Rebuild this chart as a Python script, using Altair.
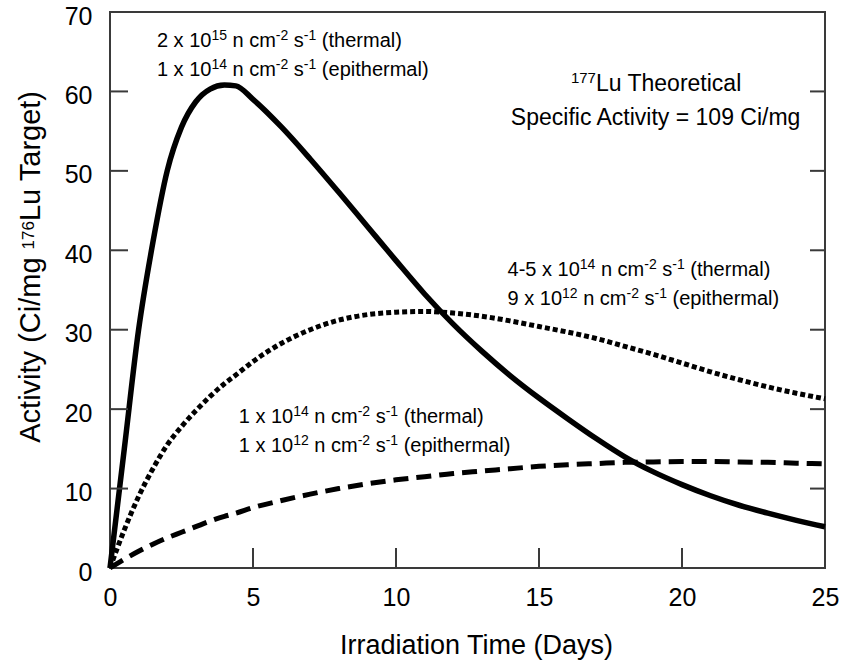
import altair as alt
import pandas as pd

# ---- data ----
days = [0, 0.5, 1, 1.5, 2, 2.5, 3, 3.5, 4, 4.4, 5, 6, 7, 8, 9, 10, 11, 12, 13, 14,
        15, 16, 17, 18, 19, 20, 21, 22, 23, 24, 25]
high_flux = [0, 15, 30, 41, 50, 55.5, 58.7, 60.3, 60.8, 60.7, 59, 55.5, 51.5, 47.3, 43,
             38.7, 34.5, 30.7, 27.3, 24.2, 21.4, 18.8, 16.3, 14.0, 12.1, 10.5, 9.1, 7.9,
             6.9, 6.0, 5.2]
mid_flux = [0, 4.8, 9, 12.5, 15.5, 17.8, 19.8, 21.6, 23.2, 24.3, 26, 28.3, 30, 31.2, 31.9,
            32.2, 32.3, 32.1, 31.7, 31.1, 30.4, 29.7, 28.9, 27.9, 26.9, 25.8, 24.7, 23.7,
            22.8, 22.0, 21.3]
low_flux = [0, 1.1, 2.1, 3.0, 3.8, 4.5, 5.2, 5.9, 6.5, 6.9, 7.6, 8.5, 9.3, 10.0, 10.6,
            11.1, 11.5, 11.9, 12.2, 12.5, 12.8, 13.0, 13.15, 13.3, 13.35, 13.4, 13.4,
            13.35, 13.3, 13.2, 13.1]

x_ticks = [0, 5, 10, 15, 20, 25]
y_ticks = [0, 10, 20, 30, 40, 50, 60, 70]
x_inner_ticks = [5, 10, 15, 20]
y_inner_ticks = [10, 20, 30, 40, 50, 60]

# annotation lines: list of (text, is_superscript) pieces
note_lines = [
    [("2 x 10", 0), ("15", 1), (" n cm", 0), ("-2", 1), (" s", 0), ("-1", 1), (" (thermal)", 0)],
    [("1 x 10", 0), ("14", 1), (" n cm", 0), ("-2", 1), (" s", 0), ("-1", 1), (" (epithermal)", 0)],
    [("4-5 x 10", 0), ("14", 1), (" n cm", 0), ("-2", 1), (" s", 0), ("-1", 1), (" (thermal)", 0)],
    [("9 x 10", 0), ("12", 1), (" n cm", 0), ("-2", 1), (" s", 0), ("-1", 1), (" (epithermal)", 0)],
    [("1 x 10", 0), ("14", 1), (" n cm", 0), ("-2", 1), (" s", 0), ("-1", 1), (" (thermal)", 0)],
    [("1 x 10", 0), ("12", 1), (" n cm", 0), ("-2", 1), (" s", 0), ("-1", 1), (" (epithermal)", 0)],
]
note_x = [1.64, 1.64, 13.9, 13.9, 4.5, 4.5]
note_y = [65.6, 61.9, 36.7, 33.1, 18.2, 14.65]

center_lines = [
    [("177", 1), ("Lu Theoretical", 0)],
    [("Specific Activity = 109 Ci/mg", 0)],
]
center_x = [19.1, 19.1]
center_y = [60.1, 55.8]

y_title = [("Activity (Ci/mg ", 0), ("176", 1), ("Lu Target)", 0)]

FONT = "Liberation Sans"
INK = "#000000"
FRAME = "#3a3a3a"
W, H = 715, 556
PX_X = W / 25.0
PX_Y = H / 70.0

# Arial / Liberation Sans advance widths (per 1000 em)
ADV = {" ": 278, "(": 333, ")": 333, "-": 333, "/": 278, "=": 584, ".": 278,
       "A": 667, "C": 722, "L": 556, "S": 667, "T": 611,
       "a": 556, "c": 500, "e": 556, "f": 278, "g": 556, "h": 556, "i": 222,
       "l": 222, "m": 833, "n": 556, "o": 556, "p": 556, "r": 333, "s": 500,
       "t": 278, "u": 556, "v": 500, "x": 500, "y": 500}
for d in "0123456789":
    ADV[d] = 556


def text_w(s, size):
    return sum(ADV.get(c, 556) for c in s) * size / 1000.0


def pieces(segs, base, sup):
    out, off = [], 0.0
    for txt, is_sup in segs:
        fs = sup if is_sup else base
        body = txt.lstrip(" ")
        off += text_w(txt[:len(txt) - len(body)], fs)
        stripped = body.rstrip(" ")
        out.append((stripped, is_sup, fs, off))
        off += text_w(body, fs)
    return out, off


def rows_for(lines, xs_, ys_, base, sup, rise, align):
    rows = []
    for segs, x0, y0 in zip(lines, xs_, ys_):
        ps, total = pieces(segs, base, sup)
        start = -total / 2 if align == "center" else 0.0
        for txt, is_sup, fs, off in ps:
            rows.append({"x": x0 + (start + off) / PX_X,
                         "y": y0 + (rise if is_sup else 0) / PX_Y,
                         "s": txt, "fs": fs})
    return rows


note_rows = rows_for(note_lines, note_x, note_y, 20, 14, 7, "left")
center_rows = rows_for(center_lines, center_x, center_y, 23, 15, 8, "center")

# rotated y-axis title (pixel coordinates relative to plot area)
yt_ps, yt_total = pieces(y_title, 29, 17)
yt_base_x, yt_center_y = -70.5, 253
yt_rows = [{"px": yt_base_x - (6 if is_sup else 0),
            "py": yt_center_y + yt_total / 2 - off, "s": txt, "fs": fs}
           for txt, is_sup, fs, off in yt_ps]

xs = alt.Scale(domain=[0, 25], nice=False, zero=False)
ys = alt.Scale(domain=[0, 70], nice=False, zero=False)

df_hi = pd.DataFrame({"d": days, "a": high_flux})
df_mid = pd.DataFrame({"d": days, "a": mid_flux})
df_lo = pd.DataFrame({"d": days, "a": low_flux})

x_enc = alt.X("d:Q", scale=xs, axis=alt.Axis(
    values=x_ticks, format="d", ticks=False, tickSize=0, domain=False, grid=False,
    labelFont=FONT, labelFontSize=25, labelColor=INK, labelPadding=17, labelFlush=False,
    title="Irradiation Time (Days)", titleFont=FONT, titleFontSize=27,
    titleFontWeight="normal", titleColor=INK, titleBaseline="middle",
    titleAlign="center", titleX=366, titleY=77))
y_enc = alt.Y("a:Q", scale=ys, axis=alt.Axis(
    values=y_ticks, format="d", ticks=False, tickSize=0, domain=False, grid=False,
    labelFont=FONT, labelFontSize=25, labelColor=INK, labelPadding=18, labelOffset=4,
    labelFlush=False, title=None))

hi = alt.Chart(df_hi).mark_line(color=INK, strokeWidth=5.5, interpolate="monotone").encode(
    x=x_enc, y=y_enc)
mid = alt.Chart(df_mid).mark_line(color=INK, strokeWidth=5, strokeDash=[5, 3],
                                  interpolate="monotone").encode(
    x=alt.X("d:Q", scale=xs), y=alt.Y("a:Q", scale=ys))
lo = alt.Chart(df_lo).mark_line(color=INK, strokeWidth=5, strokeDash=[15, 8],
                                interpolate="monotone").encode(
    x=alt.X("d:Q", scale=xs), y=alt.Y("a:Q", scale=ys))

# inward ticks
xt = alt.Chart(pd.DataFrame({"t": x_inner_ticks})).mark_rule(
    color=FRAME, strokeWidth=2).encode(
    x=alt.X("t:Q", scale=xs), y=alt.value(556), y2=alt.value(536))
ytl = alt.Chart(pd.DataFrame({"t": y_inner_ticks})).mark_rule(
    color=FRAME, strokeWidth=2).encode(
    y=alt.Y("t:Q", scale=ys), x=alt.value(0), x2=alt.value(18))
ytr = alt.Chart(pd.DataFrame({"t": y_inner_ticks})).mark_rule(
    color=FRAME, strokeWidth=2).encode(
    y=alt.Y("t:Q", scale=ys), x=alt.value(715), x2=alt.value(700))

notes = alt.Chart(pd.DataFrame(note_rows + center_rows)).mark_text(
    font=FONT, color=INK, align="left", baseline="alphabetic").encode(
    x=alt.X("x:Q", scale=xs), y=alt.Y("y:Q", scale=ys), text="s:N",
    size=alt.Size("fs:Q", scale=None, legend=None))

ytitle = alt.Chart(pd.DataFrame(yt_rows)).mark_text(
    font=FONT, color=INK, align="left", baseline="alphabetic", angle=270).encode(
    x=alt.X("px:Q", scale=None), y=alt.Y("py:Q", scale=None), text="s:N",
    size=alt.Size("fs:Q", scale=None, legend=None))

chart = alt.layer(hi, mid, lo, xt, ytl, ytr, notes, ytitle).properties(
    width=W, height=H,
    background="white",
    autosize=alt.AutoSizeParams(type="none"),
    padding={"left": 110, "top": 12, "right": 17, "bottom": 103},
).configure_view(stroke=FRAME, strokeWidth=2)

chart.save("out.html", embed_options={"renderer": "svg", "actions": False})
